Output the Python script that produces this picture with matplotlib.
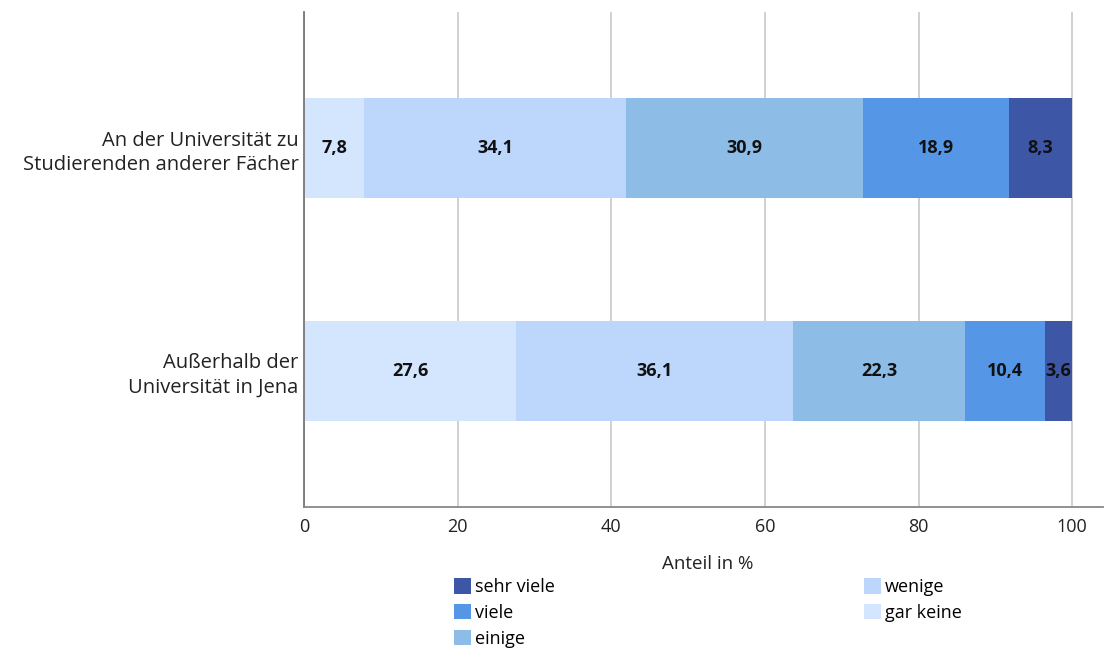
import matplotlib.pyplot as plt
from matplotlib.patches import Patch

plt.rcParams['font.family'] = ['Open Sans', 'DejaVu Sans']

categories = ["An der Universität zu\nStudierenden anderer Fächer",
              "Außerhalb der\nUniversität in Jena"]
series_names = ["gar keine", "wenige", "einige", "viele", "sehr viele"]
values = {
    "gar keine": [7.8, 27.6],
    "wenige": [34.1, 36.1],
    "einige": [30.9, 22.3],
    "viele": [18.9, 10.4],
    "sehr viele": [8.3, 3.6],
}
colors = {
    "gar keine": "#d4e6fd",
    "wenige": "#bdd7fc",
    "einige": "#8dbde6",
    "viele": "#5597e6",
    "sehr viele": "#3d56a6",
}
xticks = [0, 20, 40, 60, 80, 100]

fig = plt.figure(figsize=(11.05, 6.49), dpi=100)
ax = fig.add_axes([304 / 1105, 1 - 507 / 649, (1103 - 304) / 1105, (507 - 12) / 649])

ypos = [0, 1]
left = [0.0, 0.0]
for name in series_names:
    vals = values[name]
    ax.barh(ypos, vals, left=left, height=0.45, color=colors[name], zorder=2)
    for y, l, v in zip(ypos, left, vals):
        ax.text(l + v / 2, y, f"{v:.1f}".replace(".", ","), ha="center", va="center",
                fontsize=13, fontweight="bold", color="#111111", zorder=3)
    left = [a + b for a, b in zip(left, vals)]

ax.set_ylim(1.61, -0.61)
ax.set_xlim(0, 104)
ax.set_yticks(ypos)
ax.set_yticklabels(categories, fontsize=14.5, color="#222222", linespacing=1.3)
ax.set_xticks(xticks)
ax.set_xticklabels([str(t) for t in xticks], fontsize=13, color="#222222")
ax.tick_params(axis="y", length=0, pad=4)
ax.tick_params(axis="x", length=0, pad=8)
ax.grid(axis="x", color="#c8c8c8", linewidth=1.2, zorder=0)
for s in ["top", "right"]:
    ax.spines[s].set_visible(False)
ax.spines["left"].set_color("#777777")
ax.spines["bottom"].set_color("#888888")
ax.spines["left"].set_linewidth(1.3)
ax.spines["bottom"].set_linewidth(1.3)

fig.text(708 / 1105, 1 - 564 / 649, "Anteil in %", ha="center", va="center",
         fontsize=13.5, color="#222222")

legend_order = ["sehr viele", "viele", "einige", "wenige", "gar keine"]
handles = [Patch(facecolor=colors[n], label=n) for n in legend_order]
fig.legend(handles=handles, ncol=2, loc="upper left",
           bbox_to_anchor=(454 / 1105, 1 - 578 / 649), frameon=False,
           fontsize=13, handlelength=0.95, handleheight=0.95, handletextpad=0.2,
           columnspacing=17.15, labelspacing=0.43, borderpad=0, borderaxespad=0)

fig.savefig("out.png", dpi=100)
